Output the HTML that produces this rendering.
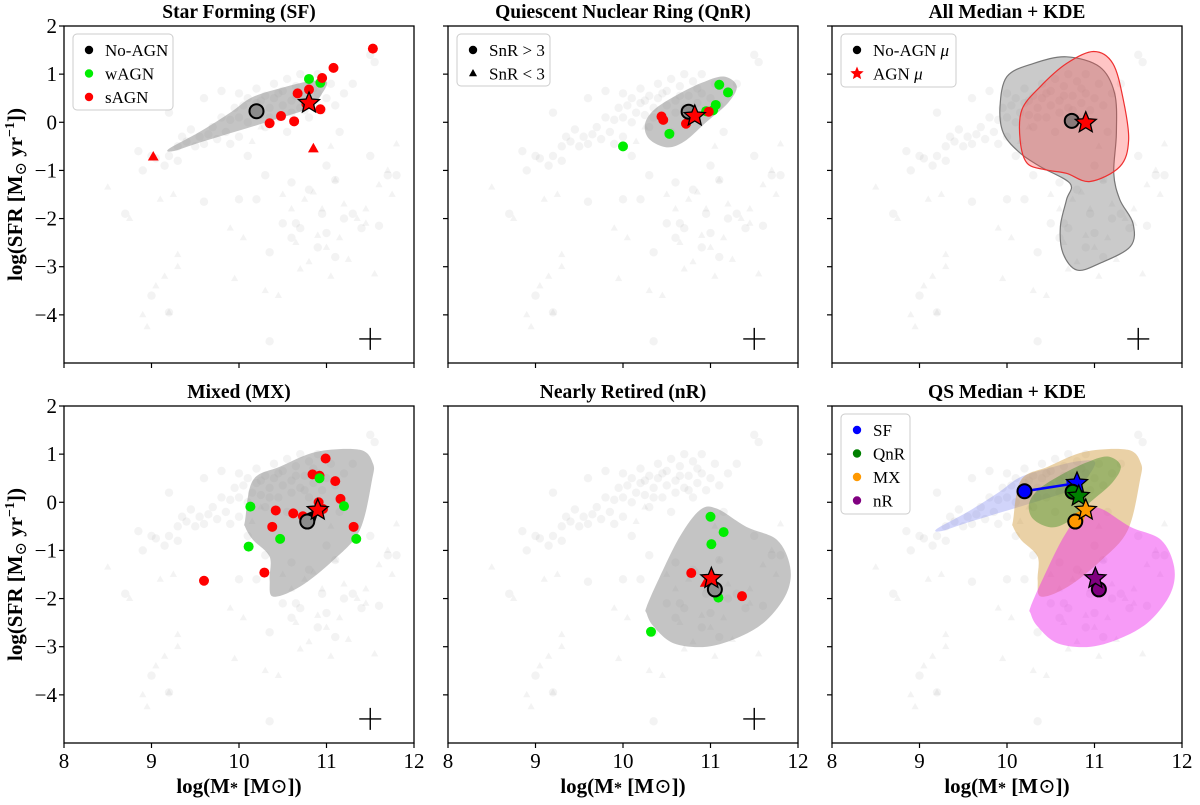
<!DOCTYPE html>
<html><head><meta charset="utf-8">
<style>
html,body{margin:0;padding:0;background:#fff;}
svg, svg text{font-family:"Liberation Serif","DejaVu Serif",serif;}
</style></head>
<body>
<svg id="fig" width="1200" height="800" viewBox="0 0 1200 800" xmlns="http://www.w3.org/2000/svg" font-family="Liberation Serif, DejaVu Serif, serif"></svg>
<script>
// ---------- data ----------
const xTicks=[8,9,10,11,12];
const yTicks=[2,1,0,-1,-2,-3,-4];
const titles=["Star Forming (SF)","Quiescent Nuclear Ring (QnR)","All Median + KDE","Mixed (MX)","Nearly Retired (nR)","QS Median + KDE"];
const bgCircles=[[8.7,-1.9],[8.85,-0.6],[8.9,-1.0],[9.0,-0.7],[9.05,-0.75],[9.15,-0.9],[9.2,-0.7],[9.3,-0.5],[9.35,-0.3],[9.4,-0.4],[9.45,-0.15],[9.5,-0.5],[9.55,-0.3],[9.6,-0.45],[9.65,-0.25],[9.7,-0.1],[9.75,-0.35],[9.8,0.1],[9.85,-0.2],[9.9,0.05],[9.95,0.3],[10.0,0.1],[10.0,-0.3],[10.05,0.35],[10.1,0.5],[10.1,0.0],[10.15,0.2],[10.2,0.7],[10.2,0.4],[10.25,0.15],[10.3,0.55],[10.3,-0.1],[10.35,0.3],[10.4,0.8],[10.4,0.5],[10.45,0.1],[10.5,0.65],[10.5,0.35],[10.55,0.9],[10.55,-0.2],[10.6,0.45],[10.6,0.2],[10.65,0.75],[10.7,1.0],[10.7,0.3],[10.75,0.55],[10.8,0.85],[10.8,0.1],[10.85,0.4],[10.9,1.0],[10.9,0.6],[10.95,0.25],[11.0,0.5],[11.05,0.8],[11.1,0.35],[11.15,-0.2],[11.2,0.6],[11.3,0.8],[11.5,1.4],[11.55,1.25],[9.8,0.65],[10.0,0.6],[9.6,0.5],[9.2,0.2],[10.0,-1.6],[10.2,-1.6],[9.6,-1.65],[10.6,-1.25],[10.7,-2.2],[10.6,-2.4],[10.9,-2.6],[11.0,-2.3],[11.2,-2.0],[11.3,-1.9],[11.4,-2.2],[11.6,-2.15],[11.7,-1.1],[10.35,-2.7],[10.65,-2.1],[10.1,-0.7],[10.3,-1.1],[11.5,-0.7],[11.8,-1.1],[9.0,-3.6],[9.2,-3.95],[10.35,-4.55],[11.0,-0.9],[10.8,-1.4],[11.1,-1.2],[10.95,-1.9],[11.1,-2.8],[10.5,-2.1],[10.45,0.6],[10.65,0.55],[10.85,0.7],[10.35,0.1],[10.75,0.25],[10.25,0.45],[9.9,-0.45],[9.3,-0.8]];
const bgTriangles=[[8.5,-1.35],[8.75,-2.0],[8.9,-4.0],[8.95,-4.25],[9.05,-3.4],[9.15,-3.2],[9.2,-3.95],[9.3,-2.75],[9.3,-3.0],[9.1,-1.6],[9.25,-1.5],[9.9,-2.2],[9.95,-3.25],[10.05,-2.4],[10.25,-0.1],[10.3,-3.5],[10.5,-1.5],[10.6,-1.8],[10.65,-2.5],[10.75,-1.6],[10.8,-2.9],[10.85,-1.45],[10.9,-2.35],[10.95,-1.8],[11.0,-2.6],[11.05,-3.2],[11.1,-1.2],[11.15,-2.4],[11.2,-1.7],[11.25,-2.85],[11.35,-2.0],[11.45,-2.1],[11.55,-3.15],[11.6,-1.3],[11.7,-1.0],[11.8,-0.45],[11.75,-1.5],[11.45,-1.8],[10.45,-3.6],[10.15,-0.4],[11.05,-0.5],[10.7,-3.05]];
// KDE contours
const kdeSF=[[9.2,-0.55],[9.55,-0.2],[9.9,0.2],[10.15,0.52],[10.5,0.72],[10.8,0.85],[11.0,0.85],[10.95,0.6],[10.8,0.3],[10.4,0.05],[9.95,-0.2],[9.5,-0.45],[9.25,-0.6]];
const kdeQnR=[[10.25,-0.05],[10.35,0.25],[10.6,0.55],[10.9,0.82],[11.15,0.95],[11.3,0.75],[11.2,0.4],[10.95,0.0],[10.7,-0.4],[10.5,-0.52],[10.3,-0.35]];
const kdeMX=[[10.07,-0.37],[10.16,0.46],[10.47,0.74],[10.89,1.05],[11.38,1.09],[11.53,0.81],[11.52,0.46],[11.38,-0.58],[11.08,-1.2],[10.7,-1.75],[10.39,-1.96],[10.35,-1.61],[10.35,-1.13],[10.16,-0.78],[10.07,-0.51]];
const kdeNR=[[10.27,-2.17],[10.42,-1.55],[10.65,-0.71],[10.88,-0.16],[11.07,-0.13],[11.41,-0.51],[11.76,-0.78],[11.91,-1.34],[11.87,-1.89],[11.64,-2.45],[11.34,-2.79],[10.96,-3.0],[10.58,-2.93],[10.35,-2.58],[10.27,-2.31]];
const kdeAllNo=[[9.92,0.32],[10.0,0.95],[10.3,1.22],[10.68,1.36],[11.06,1.15],[11.23,0.6],[11.25,-0.23],[11.22,-1.06],[11.29,-1.61],[11.44,-2.1],[11.41,-2.58],[11.06,-2.93],[10.8,-3.07],[10.64,-2.72],[10.61,-2.17],[10.68,-1.61],[10.72,-1.27],[10.38,-0.92],[10.15,-0.64],[9.96,-0.23]];
const kdeAllAGN=[[10.17,0.26],[10.38,0.74],[10.68,1.22],[10.99,1.47],[11.21,1.22],[11.33,0.46],[11.39,-0.37],[11.29,-0.92],[10.95,-1.23],[10.68,-1.06],[10.45,-0.99],[10.23,-0.85],[10.15,-0.37]];
// SF panel
const sfMedNo=[10.2,0.23], sfMedAGN=[10.8,0.4];
const sfW=[[10.8,0.9],[10.93,0.82]];
const sfS=[[10.95,0.92],[11.08,1.13],[11.53,1.53],[10.67,0.6],[10.8,0.68],[10.77,0.38],[10.93,0.27],[10.48,0.13],[10.35,-0.02],[10.63,0.02]];
const sfSTri=[[9.02,-0.72],[10.85,-0.55]];
// QnR panel
const qnMedNo=[10.75,0.22], qnMedAGN=[10.82,0.13];
const qnW=[[10.0,-0.5],[10.53,-0.24],[10.95,0.23],[11.03,0.25],[11.06,0.36],[11.1,0.78],[11.2,0.62],[10.8,0.16]];
const qnS=[[10.44,0.12],[10.46,0.05],[10.72,-0.03],[10.98,0.22]];
// All panel
const allMedNo=[10.74,0.03], allMedAGN=[10.9,-0.01];
// MX panel
const mxMedNo=[10.78,-0.4], mxMedAGN=[10.9,-0.16];
const mxS=[[10.99,0.91],[10.84,0.58],[10.92,0.55],[11.1,0.44],[11.16,0.07],[10.91,0.0],[10.96,-0.14],[10.42,-0.17],[10.62,-0.23],[10.73,-0.29],[10.38,-0.51],[11.31,-0.51],[10.29,-1.46],[9.6,-1.63]];
const mxW=[[10.92,0.5],[10.13,-0.09],[11.2,-0.08],[10.47,-0.76],[10.11,-0.92],[11.34,-0.76]];
// nR panel
const nrMedNo=[11.05,-1.81], nrMedAGN=[11.01,-1.58];
const nrS=[[10.78,-1.47],[11.36,-1.95]];
const nrSTri=[[10.94,-1.68]];
const nrW=[[11.0,-0.3],[11.15,-0.62],[11.01,-0.87],[11.09,-1.98],[10.32,-2.69]];
const errCross=[11.5,-4.5];
// ---------- layout ----------
const NS="http://www.w3.org/2000/svg";
const FONT='Liberation Serif, DejaVu Serif, serif';
const svg=document.getElementById('fig');
const lefts=[64,448,832], tops=[26,406], W=350, H=337;
function mk(tag,attrs,parent){const e=document.createElementNS(NS,tag);for(const k in attrs)e.setAttribute(k,attrs[k]);if(tag==='text')e.setAttribute('font-family',FONT);(parent||svg).appendChild(e);return e;}
function axes(i){const c=i%3,r=Math.floor(i/3);const L=lefts[c],T=tops[r];
 return {L,T,x:v=>L+(v-8)/4*W,y:v=>T+(2-v)/7*H};}
function smoothPath(pts,ax){const p=pts.map(q=>[ax.x(q[0]),ax.y(q[1])]);const n=p.length;let d=`M${p[0][0]},${p[0][1]}`;
 for(let i=0;i<n;i++){const p0=p[(i-1+n)%n],p1=p[i],p2=p[(i+1)%n],p3=p[(i+2)%n];
  const c1=[p1[0]+(p2[0]-p0[0])/6,p1[1]+(p2[1]-p0[1])/6],c2=[p2[0]-(p3[0]-p1[0])/6,p2[1]-(p3[1]-p1[1])/6];
  d+=`C${c1[0]},${c1[1]} ${c2[0]},${c2[1]} ${p2[0]},${p2[1]}`;}return d+'Z';}
function starPath(cx,cy,R){const r=R*0.45;let d='';for(let k=0;k<10;k++){const a=-Math.PI/2+k*Math.PI/5;const rr=k%2?r:R;d+=(k?'L':'M')+(cx+rr*Math.cos(a))+','+(cy+rr*Math.sin(a));}return d+'Z';}
function triPath(cx,cy,s){return `M${cx},${cy-s}L${cx+s*0.9},${cy+s*0.6}L${cx-s*0.9},${cy+s*0.6}Z`;}

for(let i=0;i<6;i++){
 const ax=axes(i);const g=mk('g',{});
 
 
 const cp=mk('clipPath',{id:'cp'+i},g);mk('rect',{x:ax.L,y:ax.T,width:W,height:H},cp);
 const pg=mk('g',{'clip-path':`url(#cp${i})`},g);
 const bg=mk('g',{fill:'#777','fill-opacity':'0.09'},pg);
 
 
 bgCircles.forEach(q=>{const e=mk('circle',{cx:ax.x(q[0]),cy:ax.y(q[1]),r:4.2},bg);
  });
 bgTriangles.forEach(q=>{const e=mk('path',{d:triPath(ax.x(q[0]),ax.y(q[1]),4)},bg);
  });
 ax.pg=pg;
 const fr=mk('rect',{x:ax.L,y:ax.T,width:W,height:H,fill:'none',stroke:'#000','stroke-width':1.3},g);
 
 const c=i%3,r=Math.floor(i/3);
 xTicks.forEach(t=>{mk('line',{x1:ax.x(t),x2:ax.x(t),y1:ax.T+H,y2:ax.T+H+5,stroke:'#000','stroke-width':1.2},g);
  if(r===1){const e=mk('text',{x:ax.x(t),y:ax.T+H+25,'text-anchor':'middle','font-size':21},g);e.textContent=t;
   }});
 yTicks.forEach(t=>{mk('line',{x1:ax.L-5,x2:ax.L,y1:ax.y(t),y2:ax.y(t),stroke:'#000','stroke-width':1.2},g);
  if(c===0){const e=mk('text',{x:ax.L-7,y:ax.y(t)+7,'text-anchor':'end','font-size':21},g);e.textContent=(t<0?'\u2212'+(-t):t);
   }});
 const tt=mk('text',{x:ax.L+W/2,y:ax.T-8,'text-anchor':'middle','font-size':19.5,'font-weight':'bold'},g);tt.textContent=titles[i];
 
 if(r===1){const xl=mk('text',{x:ax.L+W/2,y:ax.T+H+50,'text-anchor':'middle','font-size':21,'font-weight':'bold'},g);
  xl.innerHTML='log(M<tspan font-size="16">*</tspan> [M<tspan font-weight="normal">\u2299</tspan>])';
  }
 if(c===0){const yl=mk('text',{transform:`translate(${ax.L-42},${ax.T+H/2}) rotate(-90)`,'text-anchor':'middle','font-size':21,'font-weight':'bold'},g);
  yl.innerHTML='log(SFR [M<tspan font-size="16" font-weight="normal" dy="4">\u2299</tspan><tspan dy="-4"> yr</tspan><tspan font-size="14" dy="-8">\u22121</tspan><tspan dy="8">])</tspan>';
  }
 ax.g=g;window['ax'+i]=ax;
}
function kde(ax,pts,fill,op,stroke,name){const e=mk('path',{d:smoothPath(pts,ax),fill:fill,'fill-opacity':op,stroke:stroke||'none','stroke-width':1.2},ax.pg);
 }
function dots(ax,pts,color,name){pts.forEach(q=>{const e=mk('circle',{cx:ax.x(q[0]),cy:ax.y(q[1]),r:5,fill:color},ax.pg);
 });}
function tris(ax,pts,color,name){pts.forEach(q=>{const e=mk('path',{d:triPath(ax.x(q[0]),ax.y(q[1]),6),fill:color},ax.pg);
 });}
function med(ax,q,fill,name){const e=mk('circle',{cx:ax.x(q[0]),cy:ax.y(q[1]),r:7,fill:fill,stroke:'#000','stroke-width':2},ax.pg);
 }
function star(ax,q,fill,name){const e=mk('path',{d:starPath(ax.x(q[0]),ax.y(q[1]),11),fill:fill,stroke:'#000','stroke-width':1.3},ax.pg);
 }
function cross(ax){const cx=ax.x(errCross[0]),cy=ax.y(errCross[1]);
 const e=mk('path',{d:`M${cx-11},${cy}H${cx+11}M${cx},${cy-11}V${cy+11}`,stroke:'#000','stroke-width':1.4},ax.g);
 }
function arrow(ax,a,b,color,name){const x1=ax.x(a[0]),y1=ax.y(a[1]),x2=ax.x(b[0]),y2=ax.y(b[1]);
 const dx=x2-x1,dy=y2-y1,L=Math.hypot(dx,dy)||1,ux=dx/L,uy=dy/L;
 const e=mk('path',{d:`M${x1},${y1}L${x2-ux*6},${y2-uy*6}M${x2},${y2}L${x2-ux*9-uy*4},${y2-uy*9+ux*4}L${x2-ux*9+uy*4},${y2-uy*9-ux*4}Z`,stroke:color,fill:color,'stroke-width':2.5},ax.pg);
 }
const RED='#ff0000',GRN='#00ee00';
kde(ax0,kdeSF,'#8a8a8a',0.5,null,'kde-sf');
dots(ax0,sfW,GRN,'wagn-point');dots(ax0,sfS,RED,'sagn-point');tris(ax0,sfSTri,RED,'sagn-triangle');
med(ax0,sfMedNo,'#8c8c8c','median-no-agn');star(ax0,sfMedAGN,RED,'median-agn');cross(ax0);
kde(ax1,kdeQnR,'#8a8a8a',0.5,null,'kde-qnr');
dots(ax1,qnW,GRN,'wagn-point');dots(ax1,qnS,RED,'sagn-point');
med(ax1,qnMedNo,'#8c8c8c','median-no-agn');star(ax1,qnMedAGN,RED,'median-agn');cross(ax1);
kde(ax2,kdeAllNo,'#8a8a8a',0.45,'#777','kde-no-agn');
kde(ax2,kdeAllAGN,'#ff4040',0.3,'#ee3030','kde-agn');
med(ax2,allMedNo,'#8a7a7a','median-no-agn');star(ax2,allMedAGN,RED,'median-agn');cross(ax2);
kde(ax3,kdeMX,'#8a8a8a',0.5,null,'kde-mx');
dots(ax3,mxS,RED,'sagn-point');dots(ax3,mxW,GRN,'wagn-point');
arrow(ax3,mxMedNo,mxMedAGN,'#000','median-shift');
med(ax3,mxMedNo,'#8c8c8c','median-no-agn');star(ax3,mxMedAGN,RED,'median-agn');cross(ax3);
kde(ax4,kdeNR,'#8a8a8a',0.5,null,'kde-nr');
dots(ax4,nrW,GRN,'wagn-point');dots(ax4,nrS,RED,'sagn-point');tris(ax4,nrSTri,RED,'sagn-triangle');
med(ax4,nrMedNo,'#8c8c8c','median-no-agn');star(ax4,nrMedAGN,RED,'median-agn');cross(ax4);
kde(ax5,kdeSF,'#6670ee',0.3,null,'kde-sf');
kde(ax5,kdeMX,'#d19a3a',0.45,null,'kde-mx');
kde(ax5,kdeQnR,'#2f8a1a',0.4,null,'kde-qnr');
kde(ax5,kdeNR,'#ee22ee',0.45,null,'kde-nr');
[[sfMedNo,sfMedAGN,'#0000ff','sf'],[qnMedNo,qnMedAGN,'#008000','qnr'],[mxMedNo,mxMedAGN,'#ff9900','mx'],[nrMedNo,nrMedAGN,'#800080','nr']].forEach(s=>{
 arrow(ax5,s[0],s[1],s[2],'arrow-'+s[3]);med(ax5,s[0],s[2],'median-no-agn-'+s[3]);star(ax5,s[1],s[2],'median-agn-'+s[3]);});
function legend(x,y,w,h,items){const g=mk('g',{});
 
 mk('rect',{x:x,y:y,width:w,height:h,rx:4,fill:'#fff','fill-opacity':0.85,stroke:'#ccc','stroke-width':1},g);
 items.forEach((it,k)=>{const cy=y+16+k*23.5;const mx=x+16;
  if(it.m==='c')mk('circle',{cx:mx,cy:cy,r:4.2,fill:it.c},g);
  else if(it.m==='t')mk('path',{d:triPath(mx,cy,4.5),fill:it.c},g);
  else mk('path',{d:starPath(mx,cy,7),fill:it.c},g);
  const t=mk('text',{x:x+32,y:cy+6,'font-size':17},g);t.innerHTML=it.t;
  });}
legend(73,34,100,76,[{m:'c',c:'#000',t:'No-AGN'},{m:'c',c:GRN,t:'wAGN'},{m:'c',c:RED,t:'sAGN'}]);
legend(457,34,93,52,[{m:'c',c:'#000',t:'SnR &gt; 3'},{m:'t',c:'#000',t:'SnR &lt; 3'}]);
legend(841,34,115,53,[{m:'c',c:'#000',t:'No-AGN <tspan font-style="italic">\u03bc</tspan>'},{m:'s',c:RED,t:'AGN <tspan font-style="italic">\u03bc</tspan>'}]);
legend(841,414,69,100,[{m:'c',c:'#0000ff',t:'SF'},{m:'c',c:'#008000',t:'QnR'},{m:'c',c:'#ff9900',t:'MX'},{m:'c',c:'#800080',t:'nR'}]);
</script>
</body></html>
